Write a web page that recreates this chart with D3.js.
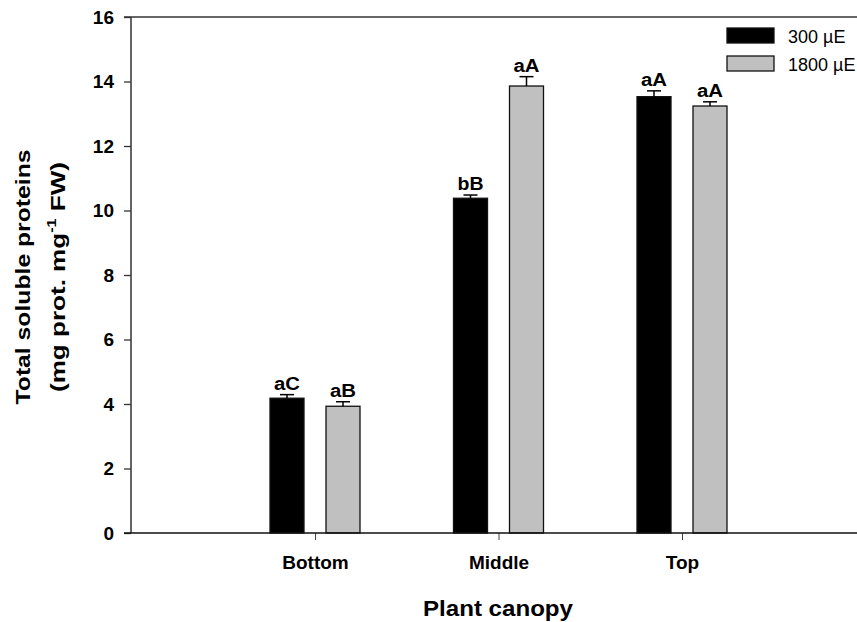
<!DOCTYPE html>
<html>
<head>
<meta charset="utf-8">
<script src="https://cdn.jsdelivr.net/npm/d3@7"></script>
<style>
  body { margin: 0; background: #fff; }
  text { font-family: "Liberation Sans", Arial, sans-serif; }
</style>
</head>
<body>
<div id="chart"></div>
<script>
// data
const categories = ["Bottom", "Middle", "Top"];
const series = ["300 µE", "1800 µE"];
const values300 = [4.18, 10.38, 13.53];
const errors300 = [0.11, 0.10, 0.18];
const values1800 = [3.93, 13.86, 13.24];
const errors1800 = [0.14, 0.29, 0.13];
const letters300 = ["aC", "bB", "aA"];
const letters1800 = ["aB", "aA", "aA"];
const yTicks = [0, 2, 4, 6, 8, 10, 12, 14, 16];
const colors = ["#000000", "#c0c0c0"];

const W = 857, H = 622;
const plot = { left: 131, right: 857, top: 17, bottom: 533 };

const svg = d3.select("#chart")
  .append("svg")
  .attr("width", W)
  .attr("height", H);

// scales
const y = d3.scaleLinear()
  .domain([0, 16])
  .range([plot.bottom, plot.top]);

const x = d3.scalePoint()
  .domain(categories)
  .range([315, 682]);

const sub = d3.scaleBand()
  .domain(series)
  .range([-45, 45])
  .paddingInner(22 / 56);

// build rows for the bars
const rows = [];
categories.forEach((c, i) => {
  rows.push({ cat: c, s: series[0], v: values300[i], e: errors300[i], lab: letters300[i], col: colors[0] });
  rows.push({ cat: c, s: series[1], v: values1800[i], e: errors1800[i], lab: letters1800[i], col: colors[1] });
});

// y axis
const yAxis = svg.append("g")
  .attr("transform", `translate(${plot.left},0)`)
  .call(d3.axisLeft(y).tickValues(yTicks).tickSize(7).tickPadding(10).tickFormat(d3.format("d")));
yAxis.select(".domain").remove();
yAxis.selectAll(".tick line").attr("stroke", "#333").attr("stroke-width", 1.3);
yAxis.selectAll(".tick text")
  .attr("font-size", 19)
  .attr("font-weight", "bold")
  .attr("fill", "#000")
  .style("font-family", "'Liberation Sans', Arial, sans-serif");

svg.append("line")
  .attr("x1", plot.left).attr("x2", plot.left)
  .attr("y1", plot.top).attr("y2", plot.bottom)
  .attr("stroke", "#333").attr("stroke-width", 1.5);

// top frame line
svg.append("line")
  .attr("x1", plot.left - 7).attr("x2", plot.right)
  .attr("y1", plot.top).attr("y2", plot.top)
  .attr("stroke", "#333").attr("stroke-width", 1.5);

// x axis
const xAxis = svg.append("g")
  .attr("transform", `translate(0,${plot.bottom})`)
  .call(d3.axisBottom(x).tickSize(7).tickPadding(16));
xAxis.select(".domain").remove();
xAxis.selectAll(".tick line").attr("stroke", "#444").attr("stroke-width", 1);
xAxis.selectAll(".tick text")
  .attr("font-size", 19)
  .attr("font-weight", "bold")
  .attr("fill", "#000")
  .style("font-family", "'Liberation Sans', Arial, sans-serif");

// bars
svg.selectAll("rect.bar")
  .data(rows)
  .join("rect")
  .attr("class", "bar")
  .attr("x", d => x(d.cat) + sub(d.s))
  .attr("width", sub.bandwidth())
  .attr("y", d => y(d.v))
  .attr("height", d => y(0) - y(d.v))
  .attr("fill", d => d.col)
  .attr("stroke", "#111")
  .attr("stroke-width", 1.3);

// error bars (upper only)
const eb = svg.selectAll("g.err")
  .data(rows)
  .join("g")
  .attr("class", "err");
eb.append("line")
  .attr("x1", d => x(d.cat) + sub(d.s) + sub.bandwidth() / 2)
  .attr("x2", d => x(d.cat) + sub(d.s) + sub.bandwidth() / 2)
  .attr("y1", d => y(d.v))
  .attr("y2", d => y(d.v + d.e))
  .attr("stroke", "#000").attr("stroke-width", 1.5);
eb.append("line")
  .attr("x1", d => x(d.cat) + sub(d.s) + sub.bandwidth() / 2 - 7)
  .attr("x2", d => x(d.cat) + sub(d.s) + sub.bandwidth() / 2 + 7)
  .attr("y1", d => y(d.v + d.e))
  .attr("y2", d => y(d.v + d.e))
  .attr("stroke", "#000").attr("stroke-width", 1.5);

// significance letters
svg.selectAll("text.lab")
  .data(rows)
  .join("text")
  .attr("class", "lab")
  .attr("x", d => x(d.cat) + sub(d.s) + sub.bandwidth() / 2)
  .attr("y", d => y(d.v + d.e) - 5)
  .attr("text-anchor", "middle")
  .attr("font-size", 18)
  .attr("font-weight", "bold")
  .attr("textLength", 26)
  .attr("lengthAdjust", "spacingAndGlyphs")
  .text(d => d.lab);

// bottom axis line
svg.append("line")
  .attr("x1", plot.left - 7).attr("x2", plot.right)
  .attr("y1", plot.bottom).attr("y2", plot.bottom)
  .attr("stroke", "#111").attr("stroke-width", 1.6);

// axis titles
svg.append("text")
  .attr("x", 498)
  .attr("y", 616)
  .attr("text-anchor", "middle")
  .attr("font-size", 22)
  .attr("font-weight", "bold")
  .attr("textLength", 150)
  .attr("lengthAdjust", "spacingAndGlyphs")
  .text("Plant canopy");

const yt = svg.append("g")
  .attr("transform", "translate(0,277) rotate(-90)");
yt.append("text")
  .attr("x", 0).attr("y", 30)
  .attr("text-anchor", "middle")
  .attr("font-size", 21)
  .attr("font-weight", "bold")
  .attr("textLength", 255)
  .attr("lengthAdjust", "spacingAndGlyphs")
  .text("Total soluble proteins");
const t2 = yt.append("text")
  .attr("x", 0).attr("y", 65)
  .attr("text-anchor", "middle")
  .attr("font-size", 21)
  .attr("font-weight", "bold")
  .attr("textLength", 230)
  .attr("lengthAdjust", "spacingAndGlyphs");
t2.append("tspan").text("(mg prot. mg");
t2.append("tspan").attr("dy", -9).attr("font-size", 13).text("-1");
t2.append("tspan").attr("dy", 9).text(" FW)");

// legend
const legend = svg.selectAll("g.leg")
  .data(series)
  .join("g")
  .attr("class", "leg")
  .attr("transform", (d, i) => `translate(727,${28 + i * 28})`);
legend.append("rect")
  .attr("width", 47)
  .attr("height", 15)
  .attr("fill", (d, i) => colors[i])
  .attr("stroke", "#111")
  .attr("stroke-width", 1.3);
legend.append("text")
  .attr("x", 61)
  .attr("y", 15)
  .attr("font-size", 18)
  .text(d => d);
</script>
</body>
</html>
